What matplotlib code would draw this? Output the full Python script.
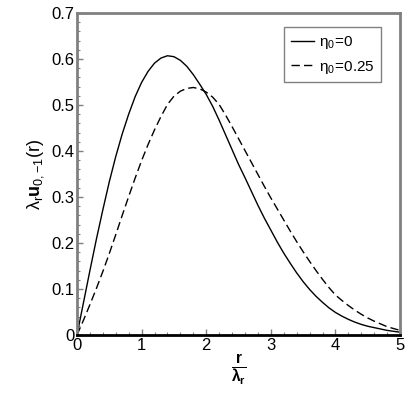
import matplotlib
matplotlib.use("Agg")
import matplotlib.pyplot as plt
from matplotlib.ticker import MultipleLocator

plt.rcParams['font.family'] = ['Liberation Sans', 'DejaVu Sans']
plt.rcParams['mathtext.fontset'] = 'custom'
plt.rcParams['mathtext.rm'] = 'Liberation Sans'
plt.rcParams['mathtext.it'] = 'Liberation Sans'
plt.rcParams['mathtext.bf'] = 'Liberation Sans:bold'

# values, step 0.1 in r/lambda_r
r = [i / 10 for i in range(51)]
u_eta0 = [0, 0.070, 0.140, 0.208, 0.272, 0.333, 0.388, 0.437, 0.480, 0.518,
          0.549, 0.573, 0.591, 0.602, 0.607, 0.605, 0.597, 0.584, 0.566, 0.545,
          0.523, 0.497, 0.467, 0.435, 0.403, 0.371, 0.342, 0.312, 0.282, 0.254,
          0.228, 0.202, 0.178, 0.156, 0.135, 0.116, 0.099, 0.084, 0.071, 0.059,
          0.049, 0.041, 0.034, 0.028, 0.023, 0.019, 0.016, 0.013, 0.010, 0.008,
          0.006]
u_eta025 = [0, 0.032, 0.066, 0.101, 0.138, 0.177, 0.218, 0.260, 0.301, 0.341,
            0.379, 0.414, 0.446, 0.475, 0.501, 0.519, 0.530, 0.536, 0.538, 0.535,
            0.528, 0.517, 0.501, 0.478, 0.453, 0.427, 0.401, 0.375, 0.349, 0.323,
            0.298, 0.274, 0.250, 0.226, 0.203, 0.181, 0.160, 0.140, 0.121, 0.103,
            0.087, 0.075, 0.064, 0.054, 0.045, 0.037, 0.030, 0.024, 0.018, 0.014,
            0.010]
labels = [r'$\eta_0\!=\!0$', r'$\eta_0\!=\!0.25$']
xticks = [0, 1, 2, 3, 4, 5]
yticks = [0, 0.1, 0.2, 0.3, 0.4, 0.5, 0.6, 0.7]
yticklabels = ['0', '0.1', '0.2', '0.3', '0.4', '0.5', '0.6', '0.7']

fig = plt.figure(figsize=(4.15, 3.93), dpi=100)
ax = fig.add_axes([0.1855, 0.1476, 0.7785, 0.8194])

ax.plot(r, u_eta0, color='black', lw=1.0, label=labels[0])
ax.plot(r, u_eta025, color='black', lw=1.0, ls=(0, (6, 3)), label=labels[1])

ax.set_xlim(0, 5)
ax.set_ylim(0, 0.7)
ax.set_xticks(xticks)
ax.set_xticklabels([str(t) for t in xticks])
ax.xaxis.set_minor_locator(MultipleLocator(0.2))
ax.set_yticks(yticks)
ax.set_yticklabels(yticklabels)
ax.yaxis.set_minor_locator(MultipleLocator(0.02))
ax.tick_params(which='both', direction='in', labelsize=12, color='#808080')
ax.tick_params(which='major', length=4, width=1, pad=2)
ax.tick_params(which='minor', length=2, width=0.8)

for side in ['left', 'top', 'right']:
    ax.spines[side].set_color('#808080')
    ax.spines[side].set_linewidth(2)
ax.spines['bottom'].set_color('black')
ax.spines['bottom'].set_linewidth(2)

ax.set_xlabel(r'$\mathbf{\frac{r}{\lambda_r}}$', fontsize=16, labelpad=0)
ax.set_ylabel(r'$\lambda_r \mathbf{u}_{0,{-}1}(r)$', fontsize=13, labelpad=4)

leg = ax.legend(loc='upper right', bbox_to_anchor=(0.965, 0.98), fontsize=11,
                handlelength=1.5, handletextpad=0.3, borderpad=0.45,
                labelspacing=0.5, fancybox=False, framealpha=1)
leg.get_frame().set_edgecolor('#808080')
leg.get_frame().set_linewidth(1)

fig.savefig('out.png', dpi=100)
